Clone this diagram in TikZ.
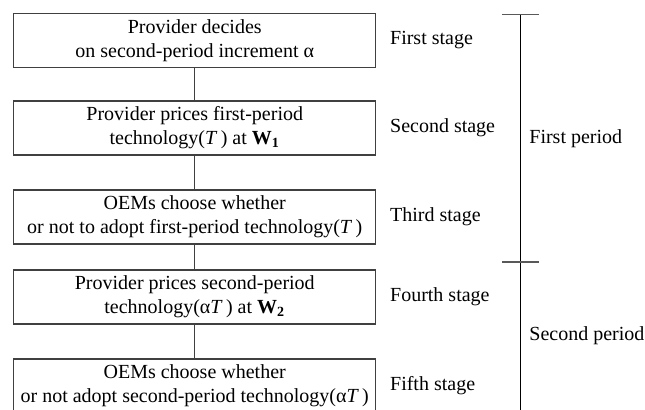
\documentclass[tikz,border=0pt]{standalone}
\usepackage{fontspec}
\setmainfont{Liberation Serif}
\usetikzlibrary{positioning}

\begin{document}
\begin{tikzpicture}[x=0.5pt,y=-0.5pt]
  \tikzstyle{stage}=[rectangle, draw=black!75, line width=0.65pt, minimum width=181pt, minimum height=27pt, inner sep=0pt, outer sep=0pt, align=center, font=\fontsize{10}{12}\selectfont, node distance=17.5pt]
  \tikzstyle{stagename}=[inner sep=0pt, anchor=west, font=\fontsize{10}{12}\selectfont, node distance=7pt]
  \tikzstyle{connect}=[draw=black!75, line width=0.65pt]
  \tikzstyle{tick}=[draw=black!65, line width=0.7pt]
  \useasboundingbox (0,0) rectangle (645,409);
    \node[stage] (s1) at (194.75,40.5) {Provider decides\\on second-period increment α};
    \node[stage] (s2) [below=16.75pt of s1] {Provider prices first-period\\technology(\textit{T}\,) at \textbf{W}\textsubscript{\textbf{1}}};
    \node[stage] (s3) [below=of s2] {OEMs choose whether\\or not to adopt first-period technology(\textit{T}\,)};
    \node[stage] (s4) [below=13pt of s3] {Provider prices second-period\\technology(α\textit{T}\,) at \textbf{W}\textsubscript{\textbf{2}}};
    \node[stage] (s5) [below=of s4] {OEMs choose whether\\or not adopt second-period technology(α\textit{T}\,)};
    \node[stagename] (n1) [right=of s1] {First stage};
    \node[stagename] (n2) [right=of s2] {Second stage};
    \node[stagename] (n3) [right=of s3] {Third stage};
    \node[stagename] (n4) [right=of s4] {Fourth stage};
    \node[stagename] (n5) [right=of s5] {Fifth stage};
    \path (s1) edge [connect] (s2)
          (s2) edge [connect] (s3)
          (s3) edge [connect] (s4)
          (s4) edge [connect] (s5);
    % period bar
    \coordinate (ptop) at (520.7,14.7);
    \coordinate (pmid) at (520.7,262);
    \coordinate (pbot) at (520.7,412);
    \draw[line width=0.55pt] (ptop) -- (pbot);
    \draw[tick] ([xshift=-9.3pt]ptop) -- ([xshift=9.3pt]ptop);
    \draw[tick] ([xshift=-9.3pt]pmid) -- ([xshift=9.3pt]pmid);
    \node[stagename] (p1) at (529,138.5) {First period};
    \node[stagename] (p2) at (529,336) {Second period};
\end{tikzpicture}
\end{document}
